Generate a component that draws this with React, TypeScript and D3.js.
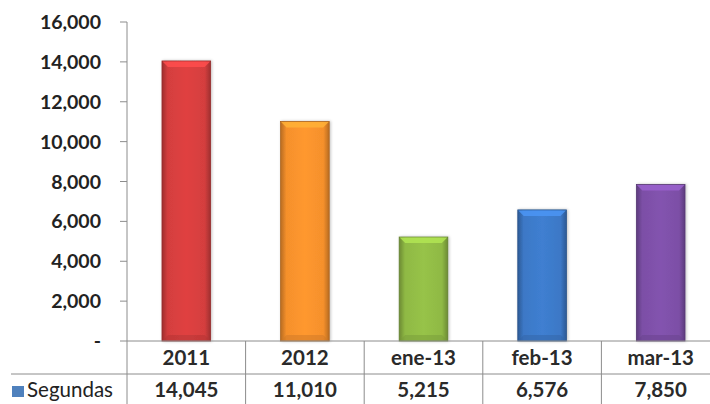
import React from "react";
import * as d3 from "d3";

const categories = ["2011", "2012", "ene-13", "feb-13", "mar-13"];
const values = [14045, 11010, 5215, 6576, 7850];
const yTicks = [0, 2000, 4000, 6000, 8000, 10000, 12000, 14000, 16000];
const seriesName = "Segundas";

const barColors = ["#D43E3E", "#F5902C", "#8FB944", "#3C78C6", "#7C4FA6"];

const W = 710;
const H = 404;
const axisX = 127;
const zeroY = 341;
const topY = 22;
const row1 = 374;
const colW = 118.6;

const fmt = (v: number) => (v === 0 ? "-" : d3.format(",")(v));

export default function App() {
  const x = d3
    .scaleBand<string>()
    .domain(categories)
    .range([axisX, axisX + colW * categories.length])
    .paddingInner(0.59)
    .paddingOuter(0.295);
  const y = d3.scaleLinear().domain([0, 16000]).range([zeroY, topY]);
  const step = x.step();
  const bw = x.bandwidth();
  const gridColor = "#8c8c8c";

  return (
    <svg
      width={W}
      height={H}
      style={{ position: "absolute", left: 0, top: 0, background: "#fff" }}
    >
      <defs>
        {barColors.map((c, i) => {
          const base = d3.rgb(c).formatHex();
          const dark = d3.rgb(c).darker(0.8).formatHex();
          const light = d3.rgb(c).brighter(0.15).formatHex();
          return (
            <linearGradient key={i} id={`g${i}`} x1="0" x2="1" y1="0" y2="0">
              <stop offset="0%" stopColor={dark} />
              <stop offset="12%" stopColor={base} />
              <stop offset="50%" stopColor={light} />
              <stop offset="88%" stopColor={base} />
              <stop offset="100%" stopColor={dark} />
            </linearGradient>
          );
        })}
        <filter id="sh" x="-20%" y="-10%" width="140%" height="120%">
          <feGaussianBlur in="SourceAlpha" stdDeviation="1.5" />
          <feOffset dx="1" dy="0" result="b" />
          <feComponentTransfer>
            <feFuncA type="linear" slope="0.25" />
          </feComponentTransfer>
          <feMerge>
            <feMergeNode />
            <feMergeNode in="SourceGraphic" />
          </feMerge>
        </filter>
      </defs>

      {/* bars */}
      {categories.map((cat, i) => {
        const bx = x(cat)!;
        const by = y(values[i]);
        const bh = zeroY - by;
        const bev = 6;
        const light = d3.rgb(barColors[i]).brighter(0.6).formatHex();
        const dark = d3.rgb(barColors[i]).darker(0.5).formatHex();
        return (
          <g key={cat} filter="url(#sh)">
            <rect x={bx} y={by} width={bw} height={bh} fill={`url(#g${i})`} stroke={d3.rgb(barColors[i]).darker(1).formatHex()} strokeWidth={0.8} />
            <polygon
              points={`${bx + 0.5},${by + 0.5} ${bx + bw - 0.5},${by + 0.5} ${bx + bw - bev},${by + bev} ${bx + bev},${by + bev}`}
              fill={light}
              opacity={0.85}
            />
            <polygon
              points={`${bx + 0.5},${zeroY - 0.5} ${bx + bw - 0.5},${zeroY - 0.5} ${bx + bw - bev},${zeroY - bev} ${bx + bev},${zeroY - bev}`}
              fill={dark}
              opacity={0.5}
            />
          </g>
        );
      })}

      {/* y axis */}
      <line x1={axisX} x2={axisX} y1={topY} y2={H} stroke={gridColor} strokeWidth={1} />
      {yTicks.map((t) => (
        <g key={t}>
          <line x1={axisX - 7} x2={axisX} y1={y(t)} y2={y(t)} stroke={gridColor} strokeWidth={1} />
          <text
            x={101}
            y={y(t)}
            dy="0.36em"
            textAnchor="end"
            fontFamily="Lato, sans-serif"
            fontWeight="bold"
            fontSize={19.5}
            fill="#222"
          >
            {fmt(t)}
          </text>
        </g>
      ))}

      {/* data table */}
      <line x1={axisX} x2={W} y1={zeroY} y2={zeroY} stroke={gridColor} strokeWidth={1} />
      <line x1={11} x2={W} y1={row1} y2={row1} stroke={gridColor} strokeWidth={1} />
      {categories.map((cat, i) =>
        i === 0 ? null : (
          <line
            key={`v${cat}`}
            x1={x(cat)! - (step - bw) / 2}
            x2={x(cat)! - (step - bw) / 2}
            y1={zeroY}
            y2={H}
            stroke={gridColor}
            strokeWidth={1}
          />
        )
      )}
      {categories.map((cat, i) => (
        <g key={`t${cat}`}>
          <text
            x={x(cat)! + bw / 2}
            y={365}
            textAnchor="middle"
            fontFamily="Lato, sans-serif"
            fontWeight="bold"
            fontSize={20.5}
            fill="#2a2a2a"
          >
            {cat}
          </text>
          <text
            x={x(cat)! + bw / 2}
            y={397}
            textAnchor="middle"
            fontFamily="Lato, sans-serif"
            fontWeight="bold"
            fontSize={20.5}
            fill="#2a2a2a"
          >
            {d3.format(",")(values[i])}
          </text>
        </g>
      ))}
      <rect x={12} y={386} width={12} height={11} fill="#4F81BD" />
      <text x={27} y={397} fontFamily="Lato, sans-serif" fontSize={20.5} fill="#222">
        {seriesName}
      </text>
    </svg>
  );
}
